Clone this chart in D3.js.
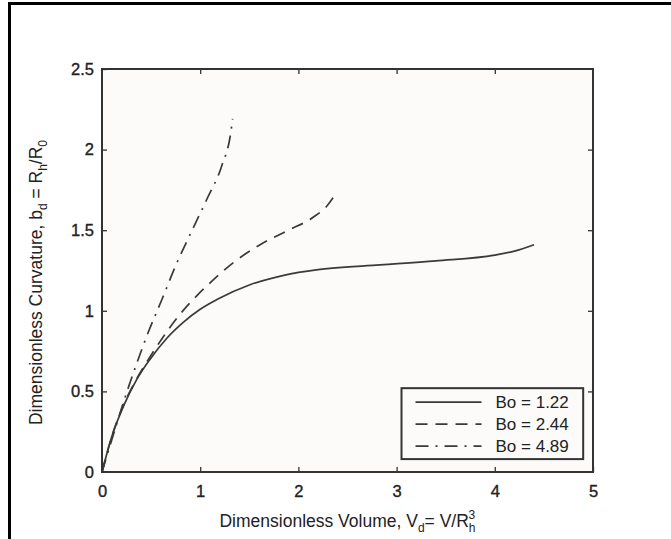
<!DOCTYPE html>
<html>
<head>
<meta charset="utf-8">
<script src="https://cdn.jsdelivr.net/npm/d3@7"></script>
<style>
  body { margin: 0; background: #fff; }
  svg text { font-family: "Liberation Sans", Arial, sans-serif; fill: #222; }
</style>
</head>
<body>
<div id="chart"></div>
<script>
// data
var xTicks = [0, 1, 2, 3, 4, 5];
var yTicks = [0, 0.5, 1, 1.5, 2, 2.5];

var vol122 = [0, 0.1, 0.22, 0.35, 0.49, 0.66, 0.83, 1.0, 1.17, 1.5, 1.85, 2.2, 2.7, 3.4, 4.0, 4.2, 4.4];
var b122   = [0, 0.22, 0.41, 0.57, 0.70, 0.83, 0.93, 1.01, 1.07, 1.16, 1.22, 1.255, 1.28, 1.31, 1.345, 1.37, 1.41];

var vol244 = [0, 0.1, 0.23, 0.35, 0.49, 0.66, 0.81, 0.96, 1.13, 1.34, 1.61, 1.88, 2.15, 2.29, 2.38];
var b244   = [0, 0.22, 0.43, 0.575, 0.715, 0.87, 0.99, 1.09, 1.19, 1.30, 1.41, 1.495, 1.58, 1.65, 1.725];

var vol489 = [0, 0.11, 0.22, 0.34, 0.47, 0.61, 0.75, 0.91, 1.07, 1.22, 1.31, 1.33];
var b489   = [0, 0.22, 0.435, 0.65, 0.865, 1.07, 1.28, 1.49, 1.695, 1.9, 2.1, 2.19];

var seriesNames = ["Bo = 1.22", "Bo = 2.44", "Bo = 4.89"];

var series = [
    { name: seriesNames[0], x: vol122, y: b122, dash: null },
    { name: seriesNames[1], x: vol244, y: b244, dash: "12,8" },
    { name: seriesNames[2], x: vol489, y: b489, dash: "13,7,2,7" }
];

var W = 671, H = 539;
var margin = { top: 69, right: 78, bottom: 67, left: 102 },
    width = W - margin.left - margin.right,
    height = H - margin.top - margin.bottom;

var root = d3.select("#chart").append("svg")
    .attr("width", W)
    .attr("height", H);

// outer frame (only top and left edges show)
root.append("line").attr("x1", 9).attr("x2", W).attr("y1", 3.5).attr("y2", 3.5)
    .attr("stroke", "#000").attr("stroke-width", 3);
root.append("line").attr("x1", 9.5).attr("x2", 9.5).attr("y1", 2).attr("y2", H)
    .attr("stroke", "#000").attr("stroke-width", 3);

var svg = root.append("g")
    .attr("transform", "translate(" + margin.left + "," + margin.top + ")");

var x = d3.scaleLinear().domain([0, 5]).range([0, width]);
var y = d3.scaleLinear().domain([0, 2.5]).range([height, 0]);

svg.append("rect")
    .attr("width", width).attr("height", height)
    .attr("fill", "#fcfbf9");

// axes, matlab style ticks pointing inwards
function styleAxis(g) {
    g.select(".domain").remove();
    g.selectAll(".tick line").attr("stroke", "#333").attr("stroke-width", 1.3);
    g.selectAll("text").style("font-size", "16.5px").attr("fill", "#222")
        .attr("stroke", "#222").attr("stroke-width", 0.35);
}

svg.append("g")
    .attr("transform", "translate(0," + height + ")")
    .call(d3.axisBottom(x).tickValues(xTicks).tickSizeInner(-5).tickSizeOuter(0).tickPadding(13)
        .tickFormat(d3.format("")))
    .call(styleAxis);
svg.append("g")
    .call(d3.axisTop(x).tickValues(xTicks.slice(1, -1)).tickSizeInner(-5).tickSizeOuter(0).tickFormat(""))
    .call(styleAxis);
svg.append("g")
    .call(d3.axisLeft(y).tickValues(yTicks).tickSizeInner(-5).tickSizeOuter(0).tickPadding(8)
        .tickFormat(d3.format("")))
    .call(styleAxis);
svg.append("g")
    .attr("transform", "translate(" + width + ",0)")
    .call(d3.axisRight(y).tickValues(yTicks.slice(1, -1)).tickSizeInner(-5).tickSizeOuter(0).tickFormat(""))
    .call(styleAxis);

svg.selectAll(".tick").filter(function(d) { return d === 0; }).select("line").remove();

// curves
var line = d3.line()
    .x(function(d) { return x(d[0]); })
    .y(function(d) { return y(d[1]); })
    .curve(d3.curveMonotoneX);

svg.append("g").selectAll("path")
    .data(series)
    .enter().append("path")
    .attr("d", function(s) { return line(d3.zip(s.x, s.y)); })
    .attr("fill", "none")
    .attr("stroke", "#3a3a3a")
    .attr("stroke-width", 1.7)
    .attr("stroke-dasharray", function(s) { return s.dash; });

// plot box
svg.append("rect")
    .attr("width", width).attr("height", height)
    .attr("fill", "none")
    .attr("stroke", "#333")
    .attr("stroke-width", 2);

// legend
var legX = x(3.05), legY = y(0.52), legW = x(4.9) - x(3.05), legH = y(0.08) - y(0.52);
var legend = svg.append("g");
legend.append("rect")
    .attr("x", legX).attr("y", legY)
    .attr("width", legW).attr("height", legH)
    .attr("fill", "#fcfbf9").attr("stroke", "#333").attr("stroke-width", 2);

var rows = legend.selectAll(".row")
    .data(series)
    .enter().append("g")
    .attr("class", "row")
    .attr("transform", function(d, i) { return "translate(" + legX + "," + (legY + 14 + i * 22) + ")"; });
rows.append("line")
    .attr("x1", 14).attr("x2", 80)
    .attr("stroke", "#3a3a3a").attr("stroke-width", 1.7)
    .attr("stroke-dasharray", function(d) { return d.dash; });
rows.append("text")
    .attr("x", 94).attr("dy", "0.35em")
    .style("font-size", "17px")
    .text(function(d) { return d.name; });

// axis titles
var xt = svg.append("text")
    .attr("x", width / 2).attr("y", height + 55)
    .attr("text-anchor", "middle")
    .style("font-size", "17.5px");
xt.append("tspan").text("Dimensionless Volume, V");
xt.append("tspan").text("d").attr("dy", 5).style("font-size", "12px");
xt.append("tspan").text("= V/R").attr("dy", -5);
xt.append("tspan").text("h").attr("dy", 5).style("font-size", "12px");
xt.append("tspan").text("3").attr("dx", -7).attr("dy", -13).style("font-size", "12px");

var yt = svg.append("text")
    .attr("transform", "translate(" + (-60) + "," + (height / 2 + 12) + ") rotate(-90)")
    .attr("text-anchor", "middle")
    .style("font-size", "17.5px");
yt.append("tspan").text("Dimensionless Curvature, b");
yt.append("tspan").text("d").attr("dy", 5).style("font-size", "12px");
yt.append("tspan").text(" = R").attr("dy", -5);
yt.append("tspan").text("h").attr("dy", 5).style("font-size", "12px");
yt.append("tspan").text("/R").attr("dy", -5);
yt.append("tspan").text("0").attr("dy", 5).style("font-size", "12px");
</script>
</body>
</html>
